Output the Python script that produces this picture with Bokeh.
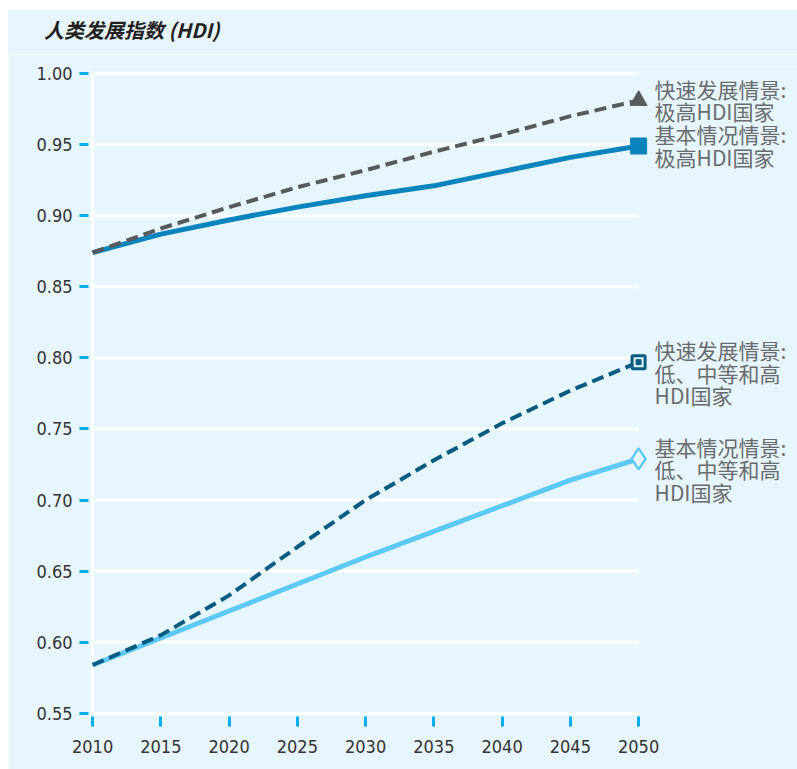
from bokeh.plotting import figure
from bokeh.layouts import column
from bokeh.models import FixedTicker, Range1d, ColumnDataSource, CustomJSTickFormatter, Div
from bokeh.embed import file_html
from bokeh.resources import INLINE
from bokeh.core.properties import value

# ---- data ----
years = [2010, 2015, 2020, 2025, 2030, 2035, 2040, 2045, 2050]
vh_fast = [0.874, 0.891, 0.906, 0.920, 0.932, 0.945, 0.957, 0.970, 0.981]
vh_base = [0.874, 0.887, 0.897, 0.906, 0.914, 0.921, 0.931, 0.941, 0.949]
lmh_fast = [0.584, 0.605, 0.633, 0.667, 0.700, 0.728, 0.754, 0.777, 0.797]
lmh_base = [0.584, 0.603, 0.622, 0.641, 0.660, 0.678, 0.696, 0.714, 0.729]
y_ticks = [0.55, 0.60, 0.65, 0.70, 0.75, 0.80, 0.85, 0.90, 0.95, 1.00]
x_ticks = [2010, 2015, 2020, 2025, 2030, 2035, 2040, 2045, 2050]
series_labels = [
    "快速发展情景:\n极高HDI国家",
    "基本情况情景:\n极高HDI国家",
    "快速发展情景:\n低、中等和高\nHDI国家",
    "基本情况情景:\n低、中等和高\nHDI国家",
]
title_text = "人类发展指数 (HDI)"

# ---- style ----
BG = "#e7f5fd"
CYAN = "#00aeef"
C_GRAY = "#58595b"
C_BLUE = "#0a84bc"
C_TEAL = "#065c80"
C_LIGHT = "#5ccaf5"
LABEL_C = "#6a6b6e"
TICK_FONT = "'Liberation Sans Narrow', 'DejaVu Sans Condensed', 'Roboto Condensed', Roboto, sans-serif"

W = 789
TITLE_H = 44
H = 715
ML, MR, MT, MB = 80, 0, 12, 49
px_per_year = 68.25 / 5
px_per_unit = 71.1 / 0.05
x0 = 2009.7
x1 = x0 + (W - ML - MR) / px_per_year
y0 = 0.545
y1 = y0 + (H - MT - MB) / px_per_unit

title_div = Div(
    text=f'<span style="margin-left:36px">{title_text}</span>',
    width=W, height=TITLE_H, margin=(10, 0, 0, 8),
    styles={"background-color": BG, "font-family": "'Noto Sans CJK SC'", "font-weight": "bold",
            "font-style": "italic", "font-size": "20px", "color": "#231f20",
            "line-height": "40px", "white-space": "nowrap"},
)

p = figure(width=W, height=H, output_backend="svg", toolbar_location=None,
           x_range=Range1d(x0, x1), y_range=Range1d(y0, y1),
           min_border_left=ML, min_border_right=MR, min_border_top=MT, min_border_bottom=MB,
           background_fill_color=BG, border_fill_color=BG, outline_line_color=None)
p.margin = (0, 0, 0, 8)

p.xgrid.visible = False
p.ygrid.visible = False

# grid lines drawn through data
p.segment(x0=[x_ticks[0]] * len(y_ticks), x1=[x_ticks[-1]] * len(y_ticks), y0=y_ticks, y1=y_ticks,
          line_color="white", line_width=3)
p.segment(x0=[x_ticks[0]], x1=[x_ticks[0]], y0=[y_ticks[0]], y1=[y_ticks[-1]],
          line_color="white", line_width=3)

# axes
p.yaxis.ticker = FixedTicker(ticks=y_ticks)
p.yaxis.formatter = CustomJSTickFormatter(code="return tick.toFixed(2);")
p.yaxis.axis_line_color = None
p.yaxis.major_tick_in = 0
p.yaxis.major_tick_out = 9
p.yaxis.major_tick_line_color = CYAN
p.yaxis.major_tick_line_width = 3
p.yaxis.minor_tick_line_color = None
p.yaxis.major_label_standoff = 7
p.yaxis.major_label_text_font = TICK_FONT
p.yaxis.major_label_text_font_size = "18px"
p.yaxis.major_label_text_color = "#333333"

p.xaxis.ticker = FixedTicker(ticks=x_ticks)
p.xaxis.axis_line_color = None
p.xaxis.major_tick_in = 4
p.xaxis.major_tick_out = 6
p.xaxis.major_tick_line_color = CYAN
p.xaxis.major_tick_line_width = 3
p.xaxis.minor_tick_line_color = None
p.xaxis.major_label_standoff = 13
p.xaxis.major_label_text_font = TICK_FONT
p.xaxis.major_label_text_font_size = "18px"
p.xaxis.major_label_text_color = "#333333"

# lines
p.line(years, lmh_base, line_color=C_LIGHT, line_width=5)
p.line(years, lmh_fast, line_color=C_TEAL, line_width=4, line_dash="12 6")
p.line(years, vh_base, line_color=C_BLUE, line_width=5)
p.line(years, vh_fast, line_color=C_GRAY, line_width=4, line_dash="12 6")

# end markers
p.scatter([years[-1]], [vh_fast[-1]], marker="triangle", size=17, fill_color=C_GRAY, line_color=C_GRAY)
p.scatter([years[-1]], [vh_base[-1]], marker="square", size=16, fill_color=C_BLUE, line_color=C_BLUE)
p.scatter([years[-1]], [lmh_fast[-1]], marker="square", size=13, fill_color=BG, line_color=C_TEAL, line_width=3)
p.scatter([years[-1]], [lmh_fast[-1]], marker="square", size=5, fill_color=C_TEAL, line_color=C_TEAL)
p.scatter([years[-1]], [lmh_base[-1]], marker="diamond", size=21, fill_color=BG, line_color=C_LIGHT, line_width=2.5)

# series labels
src = ColumnDataSource(dict(x=[years[-1]] * 4,
                            y=[vh_fast[-1], vh_base[-1], lmh_fast[-1], lmh_base[-1]],
                            t=series_labels))
p.text(x="x", y="y", text="t", source=src, x_offset=16, y_offset=-27,
       text_baseline="top", text_align="left", text_font=value("Noto Sans CJK SC"),
       text_font_size="21px", text_color=LABEL_C, text_line_height=0.75)

layout = column(title_div, p, spacing=0)

open("out.html", "w").write(file_html(layout, INLINE))
